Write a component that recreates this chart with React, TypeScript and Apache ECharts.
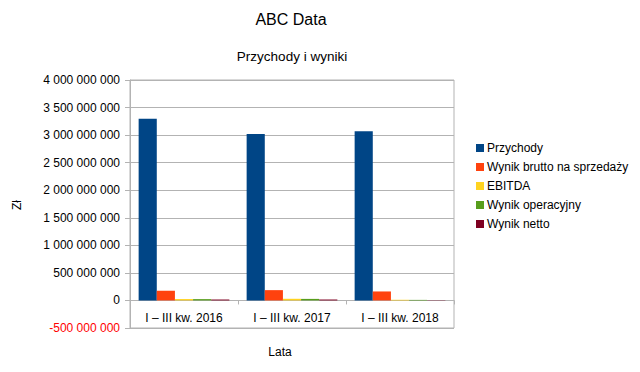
import React, { useEffect, useRef } from "react";
import * as echarts from "echarts";

const categories = ["I – III kw. 2016", "I – III kw. 2017", "I – III kw. 2018"];
const seriesNames = ["Przychody", "Wynik brutto na sprzedaży", "EBITDA", "Wynik operacyjny", "Wynik netto"];
const przychody = [3295000000, 3020000000, 3070000000];
const wynikBrutto = [176000000, 187000000, 163000000];
const ebitda = [25000000, 30000000, 12000000];
const wynikOperacyjny = [24000000, 28000000, 10000000];
const wynikNetto = [17000000, 17000000, 5000000];
const colors = ["#004586", "#ff420e", "#ffd320", "#579d1c", "#7e0021"];

const fmt = (v: number) => {
  const s = String(Math.abs(v)).replace(/\B(?=(\d{3})+(?!\d))/g, " ");
  return (v < 0 ? "-" : "") + s;
};

export default function App() {
  const ref = useRef<HTMLDivElement>(null);
  useEffect(() => {
    if (!ref.current) return;
    const chart = echarts.init(ref.current, undefined, { renderer: "svg" });
    const font = "'Liberation Sans', Arial, sans-serif";
    const data = [przychody, wynikBrutto, ebitda, wynikOperacyjny, wynikNetto];
    chart.setOption({
      animation: false,
      color: colors,
      textStyle: { fontFamily: font },
      grid: { left: 130, right: 186, top: 80, bottom: 44, show: true, borderColor: "#b3b3b3", borderWidth: 1 },
      graphic: [
        { type: "text", x: 291, y: 19, style: { text: "ABC Data", fontSize: 16, fontFamily: font, fill: "#000", align: "center", verticalAlign: "middle" } },
        { type: "text", x: 292, y: 56, style: { text: "Przychody i wyniki", fontSize: 13.5, fontFamily: font, fill: "#000", align: "center", verticalAlign: "middle" } },
        { type: "text", x: 17, y: 205, rotation: Math.PI / 2, style: { text: "Zł", fontSize: 12, fontFamily: font, fill: "#000", align: "center", verticalAlign: "middle" } },
        { type: "text", x: 280, y: 352, style: { text: "Lata", fontSize: 12, fontFamily: font, fill: "#000", align: "center", verticalAlign: "middle" } },
      ],
      legend: {
        orient: "vertical",
        left: 471,
        top: 137,
        icon: "rect",
        itemWidth: 8,
        itemHeight: 8,
        itemGap: 7,
        data: seriesNames,
        textStyle: { fontSize: 12, fontFamily: font, color: "#000", padding: [0, 0, 0, -2] },
      },
      xAxis: {
        type: "category",
        data: categories,
        axisLine: { show: true, onZero: true, lineStyle: { color: "#b3b3b3" } },
        axisTick: { show: true, length: 4, lineStyle: { color: "#b3b3b3" } },
        axisLabel: { fontSize: 12, fontFamily: font, color: "#000", margin: -16 },
      },
      yAxis: {
        type: "value",
        min: -500000000,
        max: 4000000000,
        interval: 500000000,
        axisLine: { show: true, lineStyle: { color: "#b3b3b3" } },
        axisTick: { show: true, length: 5, lineStyle: { color: "#b3b3b3" } },
        splitLine: { show: true, lineStyle: { color: "#b3b3b3" } },
        axisLabel: {
          fontSize: 12,
          fontFamily: font,
          margin: 10,
          formatter: (v: number) => fmt(v),
          color: (v: any) => (Number(v) < 0 ? "#ff0000" : "#000"),
        },
      },
      series: seriesNames.map((n, i) => ({
        name: n,
        type: "bar",
        data: data[i],
        barGap: "0%",
        barCategoryGap: "16%",
        itemStyle: { color: colors[i] },
      })),
    });
    return () => chart.dispose();
  }, []);
  return <div ref={ref} style={{ width: 640, height: 372, margin: -8 }} />;
}
